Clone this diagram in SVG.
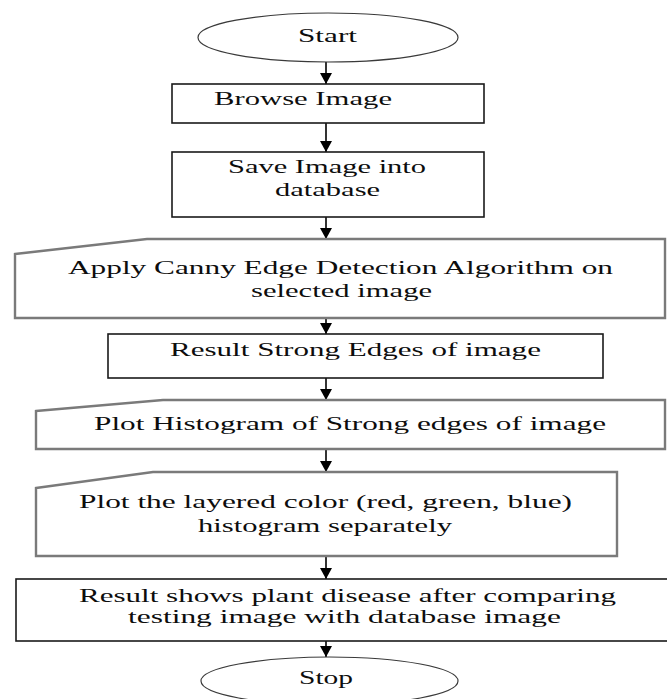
<svg xmlns="http://www.w3.org/2000/svg" width="667" height="699" viewBox="0 0 667 699">
<defs>
<marker id="ah" markerUnits="userSpaceOnUse" markerWidth="14" markerHeight="12" refX="11" refY="6" orient="auto">
<path d="M0,0 L11,6 L0,12 Z" fill="#000"/>
</marker>
<style>
.t{font-family:"Liberation Serif","Times New Roman",serif;font-size:18.5px;fill:#0d0d0d}
.box{fill:#fff;stroke:#1a1a1a;stroke-width:1.6}
.man{fill:#fff;stroke:#7a7a7a;stroke-width:2.4;stroke-linejoin:miter}
.ell{fill:#fff;stroke:#3a3a3a;stroke-width:1.2}
.c{stroke:#000;stroke-width:1.6;fill:none;marker-end:url(#ah)}
</style>
</defs>
<rect width="667" height="699" fill="#fff"/>
<g id="connectors">
<line class="c" x1="326" y1="62" x2="326" y2="84"/>
<line class="c" x1="326" y1="123" x2="326" y2="152"/>
<line class="c" x1="326" y1="217" x2="326" y2="239"/>
<line class="c" x1="326" y1="318" x2="326" y2="334"/>
<line class="c" x1="326" y1="378" x2="326" y2="400"/>
<line class="c" x1="326" y1="449" x2="326" y2="472"/>
<line class="c" x1="326" y1="556" x2="326" y2="579"/>
<line class="c" x1="326" y1="641" x2="326" y2="657"/>
</g>
<g id="start">
<ellipse class="ell" cx="328" cy="37.5" rx="130" ry="24.5"/>
<text class="t" transform="translate(298,42) scale(1.7,1)" textLength="34.7" lengthAdjust="spacingAndGlyphs">Start</text>
</g>
<g id="browse">
<rect class="box" x="172" y="84" width="312" height="39"/>
<text class="t" transform="translate(214,105) scale(1.7,1)" textLength="104.7" lengthAdjust="spacingAndGlyphs">Browse Image</text>
</g>
<g id="save">
<rect class="box" x="172" y="152" width="312" height="65"/>
<text class="t" transform="translate(228,173) scale(1.7,1)" textLength="116.5" lengthAdjust="spacingAndGlyphs">Save Image into</text>
<text class="t" transform="translate(275,196) scale(1.7,1)" textLength="61.8" lengthAdjust="spacingAndGlyphs">database</text>
</g>
<g id="canny">
<polygon class="man" points="15,254 147,239 665,239 665,318 15,318"/>
<text class="t" transform="translate(68,274) scale(1.7,1)" textLength="320.6" lengthAdjust="spacingAndGlyphs">Apply Canny Edge Detection Algorithm on</text>
<text class="t" transform="translate(251,297) scale(1.7,1)" textLength="106.5" lengthAdjust="spacingAndGlyphs">selected image</text>
</g>
<g id="strong">
<rect class="box" x="108" y="334" width="495" height="44"/>
<text class="t" transform="translate(170,356) scale(1.7,1)" textLength="218.2" lengthAdjust="spacingAndGlyphs">Result Strong Edges of image</text>
</g>
<g id="hist">
<polygon class="man" points="36,411 163,400 665,400 665,449 36,449"/>
<text class="t" transform="translate(94,430) scale(1.7,1)" textLength="301.2" lengthAdjust="spacingAndGlyphs">Plot Histogram of Strong edges of image</text>
</g>
<g id="layered">
<polygon class="man" points="36,488 153,472 617,472 617,556 36,556"/>
<text class="t" transform="translate(79,508) scale(1.7,1)" textLength="290" lengthAdjust="spacingAndGlyphs">Plot the layered color (red, green, blue)</text>
<text class="t" transform="translate(198,532) scale(1.7,1)" textLength="149.4" lengthAdjust="spacingAndGlyphs">histogram separately</text>
</g>
<g id="result">
<rect class="box" x="16" y="579" width="660" height="62"/>
<text class="t" transform="translate(79,602) scale(1.7,1)" textLength="315.9" lengthAdjust="spacingAndGlyphs">Result shows plant disease after comparing</text>
<text class="t" transform="translate(128,623) scale(1.7,1)" textLength="254.7" lengthAdjust="spacingAndGlyphs">testing image with database image</text>
</g>
<g id="stop">
<ellipse class="ell" cx="329.5" cy="681" rx="128.5" ry="24"/>
<text class="t" transform="translate(299,684) scale(1.7,1)" textLength="31.8" lengthAdjust="spacingAndGlyphs">Stop</text>
</g>
</svg>
